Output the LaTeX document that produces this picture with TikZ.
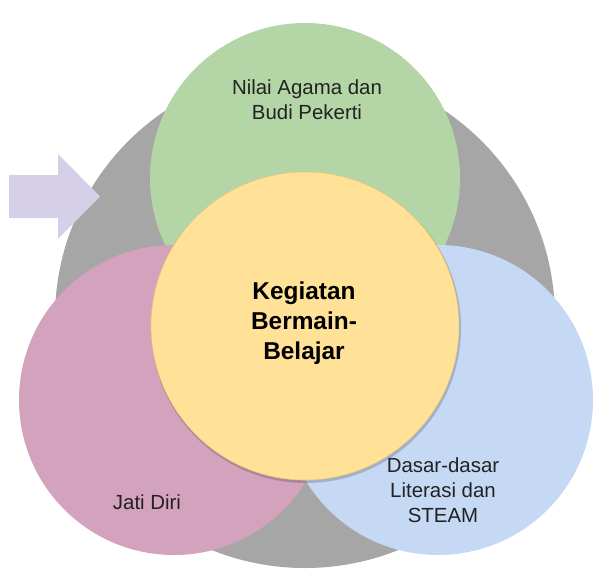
\documentclass[tikz,border=0pt]{standalone}
\usepackage{fontspec}
\setmainfont{Liberation Sans}
\definecolor{greyC}{HTML}{A6A6A6}
\definecolor{greenC}{HTML}{B4D6A6}
\definecolor{pinkC}{HTML}{D3A3BE}
\definecolor{blueC}{HTML}{C6D9F4}
\definecolor{yellowC}{HTML}{FFE298}
\definecolor{arrowC}{HTML}{D5D0E8}
\definecolor{txtC}{HTML}{222222}
\begin{document}
\begin{tikzpicture}[x=1bp,y=-1bp,
  disc/.style={circle, inner sep=0pt, minimum size=#1},
  lbl/.style={align=center, text=txtC, font=\fontsize{20.5}{25}\selectfont},
  mainlbl/.style={align=center, text=black, font=\fontsize{24.5}{30}\selectfont\bfseries}]
\useasboundingbox (0,0) rectangle (593,569);
\node[disc=500bp, fill=greyC] (grey) at (305,318) {};
\path[fill=arrowC] (9,175) -- (58,175) -- (58,154) -- (100,196.5) -- (58,239) -- (58,218) -- (9,218) -- cycle;
\node[disc=310bp, fill=greenC] (green) at (305,178) {};
\node[disc=310bp, fill=pinkC] (pink) at (174,400) {};
\node[disc=310bp, fill=blueC] (blue) at (438,400) {};
\node[disc=310bp, fill=black, opacity=0.18] (shadow) at (306,328) {};
\node[disc=308bp, fill=yellowC, draw=yellowC!70!brown, line width=0.6bp] (yellow) at (305,326) {};
\node[lbl] (tgreen) at (307,99.5) {Nilai Agama dan\\Budi Pekerti};
\node[mainlbl] (tmain) at (304,323) {Kegiatan\\Bermain-\\Belajar};
\node[lbl] (tpink) at (147,502) {Jati Diri};
\node[lbl] (tblue) at (443,490) {Dasar-dasar\\Literasi dan\\STEAM};
\end{tikzpicture}
\end{document}
